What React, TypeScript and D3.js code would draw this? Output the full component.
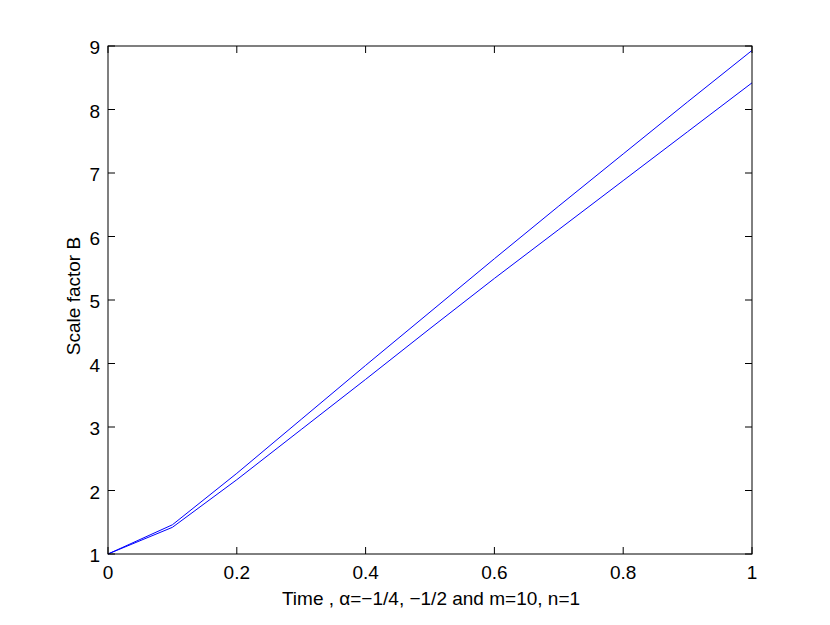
import React from "react";
import * as d3 from "d3";

const times = [0, 0.1, 0.2, 0.3, 0.4, 0.5, 0.6, 0.7, 0.8, 0.9, 1.0];
const seriesUpper = [1, 1.46, 2.27, 3.12, 3.97, 4.81, 5.65, 6.48, 7.3, 8.12, 8.93];
const seriesLower = [1, 1.42, 2.17, 2.96, 3.75, 4.55, 5.34, 6.11, 6.88, 7.65, 8.42];
const xTicks = [0, 0.2, 0.4, 0.6, 0.8, 1];
const yTicks = [1, 2, 3, 4, 5, 6, 7, 8, 9];
const xLabel = "Time , \u03b1=\u22121/4, \u22121/2 and m=10, n=1";
const yLabel = "Scale factor B";

export default function App() {
  const W = 830, H = 625;
  const L = 108, R = 752, T = 46, B = 554;
  const x = d3.scaleLinear().domain([0, 1]).range([L, R]);
  const y = d3.scaleLinear().domain([1, 9]).range([B, T]);
  const line = d3.line<number>().x((_, i) => x(times[i])).y((d) => y(d));
  const font = "Liberation Sans, Arial, sans-serif";
  const fs = 19;
  const tk = 7;
  return (
    <svg width={W} height={H} style={{ position: "absolute", left: 0, top: 0, background: "#fff" }}>
      <rect x={0} y={0} width={W} height={H} fill="#fff" />
      {[seriesUpper, seriesLower].map((s, i) => (
        <path key={i} d={line(s) || ""} fill="none" stroke="#0000ff" strokeWidth={1} />
      ))}
      <rect x={L} y={T} width={R - L} height={B - T} fill="none" stroke="#000" strokeWidth={1} />
      {xTicks.map((t) => (
        <g key={"x" + t}>
          <line x1={x(t)} x2={x(t)} y1={B} y2={B - tk} stroke="#000" />
          <line x1={x(t)} x2={x(t)} y1={T} y2={T + tk} stroke="#000" />
          <text x={x(t)} y={B + 25} fontSize={fs} fontFamily={font} textAnchor="middle">{String(t)}</text>
        </g>
      ))}
      {yTicks.map((t) => (
        <g key={"y" + t}>
          <line x1={L} x2={L + tk} y1={y(t)} y2={y(t)} stroke="#000" />
          <line x1={R} x2={R - tk} y1={y(t)} y2={y(t)} stroke="#000" />
          <text x={L - 8} y={y(t) + 8} fontSize={fs} fontFamily={font} textAnchor="end">{String(t)}</text>
        </g>
      ))}
      <text x={431} y={605} fontSize={fs} fontFamily={font} textAnchor="middle">{xLabel}</text>
      <text transform={`translate(80,296) rotate(-90)`} fontSize={fs} fontFamily={font} textAnchor="middle">{yLabel}</text>
    </svg>
  );
}
